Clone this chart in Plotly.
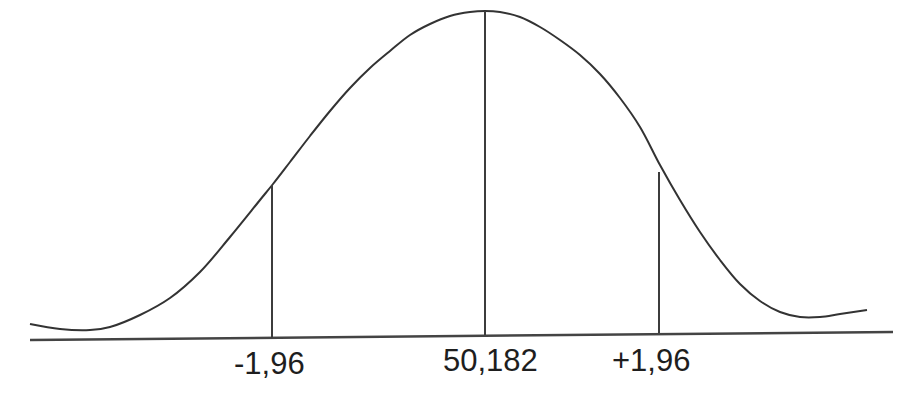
import plotly.graph_objects as go

# ── Data (page coordinates; y grows downward) ────────────────────────────────
curve_x = [30, 60, 90, 110, 140, 170, 200, 230, 260, 273, 290, 310, 330, 350,
           370, 390, 410, 430, 450, 470, 485, 500, 520, 540, 560, 580, 600,
           620, 640, 660, 680, 700, 720, 740, 760, 780, 800, 820, 840, 867]
curve_y = [324, 329, 330, 327, 315, 298, 272, 237, 200, 184, 162, 136, 111, 88,
           68, 51, 35, 24, 16, 12, 11, 12, 17, 27, 40, 55, 74,
           98, 127, 165, 200, 232, 260, 284, 301, 312, 317, 317, 314, 310]

base_x = [30, 900]
base_y = [340, 332]

# vertical markers: x position, bottom (baseline) and top (curve)
mark_x   = [272, 485, 659]
mark_bot = [338, 335, 333]
mark_top = [185, 11, 172]

label_text = ["-1,96", "50,182", "+1,96"]
label_x    = [269, 490, 651]
label_y    = [363, 360, 360]

_INK  = "#333333"
_TEXT = "#1e1e1e"
_FONT = dict(family="Liberation Sans, Arial, sans-serif", size=31, color=_TEXT)
_PAGE = 8   # body margin of the html page, compensated in the axis ranges

fig = go.Figure()

# bell curve
fig.add_trace(go.Scatter(
    x=curve_x, y=curve_y,
    mode="lines",
    line=dict(color=_INK, width=2, shape="spline", smoothing=1.0),
    hoverinfo="skip",
))

# baseline
fig.add_trace(go.Scatter(
    x=base_x, y=base_y,
    mode="lines",
    line=dict(color="#444444", width=2.5),
    hoverinfo="skip",
))

# vertical markers
for mx, mb, mt in zip(mark_x, mark_bot, mark_top):
    fig.add_trace(go.Scatter(
        x=[mx, mx], y=[mb, mt],
        mode="lines",
        line=dict(color="#3c3c3c", width=2),
        hoverinfo="skip",
    ))

fig.update_layout(
    width=901,
    height=402,
    margin=dict(l=0, r=0, t=0, b=0),
    plot_bgcolor="white",
    paper_bgcolor="white",
    showlegend=False,
    xaxis=dict(range=[_PAGE, 901 + _PAGE], visible=False, fixedrange=True),
    yaxis=dict(range=[402 + _PAGE, _PAGE], visible=False, fixedrange=True),
    annotations=[
        dict(x=lx, y=ly, text=t, showarrow=False, xref="x", yref="y",
             xanchor="center", yanchor="middle", font=_FONT)
        for t, lx, ly in zip(label_text, label_x, label_y)
    ],
)

fig.write_html("out.html")
